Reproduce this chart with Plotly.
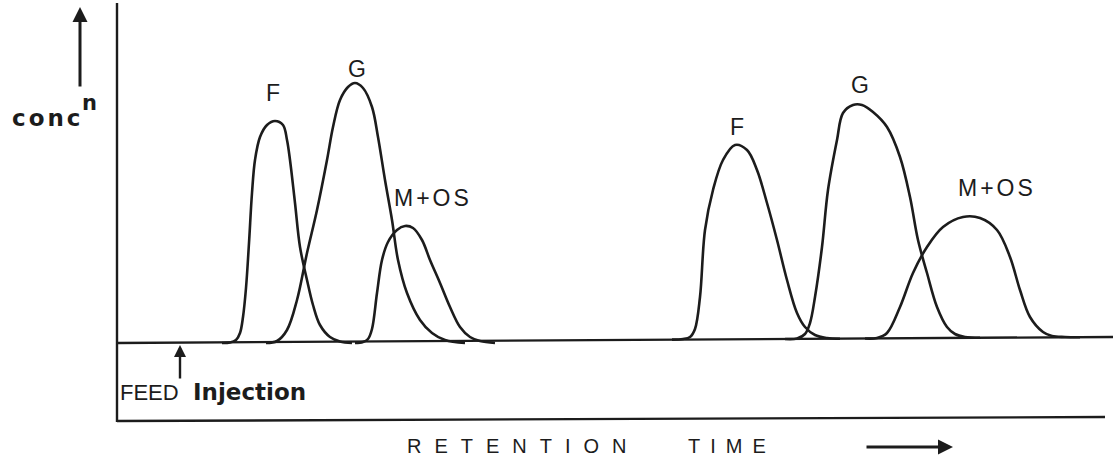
import plotly.graph_objects as go

# Schematic chromatogram: two injections, three components each
# x = retention time (arbitrary units), y = concentration (arbitrary units)
f1_t = [222, 230, 236, 240, 243, 246, 249, 252, 255, 260, 267, 275, 283, 287, 290, 295, 300, 307, 313, 320, 330, 340, 352]
f1_c = [0, 0.5, 3, 10, 26, 55, 100, 150, 183, 206, 218, 222, 218, 203, 183, 140, 96, 63, 38, 18, 6, 1.5, 0]

g1_t = [266, 277, 287, 297, 307, 317, 327, 333, 340, 348, 355, 363, 372, 378, 385, 392, 398, 407, 420, 432, 445, 465]
g1_c = [0, 2, 13, 43, 90, 133, 183, 216, 243, 256, 260, 255, 236, 206, 163, 123, 83, 50, 23, 10, 3, 0]

m1_t = [355, 363, 368, 372, 377, 382, 388, 397, 405, 413, 422, 430, 440, 450, 460, 470, 480, 495]
m1_c = [0, 1, 4, 14, 50, 83, 101, 113, 117, 115, 103, 83, 60, 36, 16, 6, 2, 0]

f2_t = [672, 683, 690, 695, 700, 705, 713, 723, 735, 747, 757, 767, 777, 787, 797, 805, 815, 827, 840]
f2_c = [3.4, 4, 6, 14, 46, 113, 153, 183, 198, 193, 173, 140, 103, 63, 30, 16, 8, 5, 4.3]

g2_t = [785, 797, 805, 810, 815, 822, 828, 837, 843, 853, 862, 873, 887, 900, 910, 918, 927, 937, 947, 955, 965, 980]
g2_c = [4, 4.5, 9, 20, 46, 96, 153, 203, 230, 238, 238, 231, 216, 186, 146, 103, 70, 36, 16, 9, 6, 5.2]

m2_t = [865, 877, 887, 900, 913, 927, 943, 963, 980, 997, 1010, 1020, 1030, 1043, 1052, 1065, 1080]
m2_c = [4.5, 5, 10, 36, 70, 96, 116, 126, 125, 113, 86, 53, 26, 11, 7, 6, 5.8]

peak_labels = ["F", "G", "M+OS", "F", "G", "M+OS"]
label_t = [273, 357, 433, 737, 860, 997]
label_c = [250, 274, 145, 216, 258, 155]

INK = "#1c1c1c"

fig = go.Figure()
for t, c in [(f1_t, f1_c), (g1_t, g1_c), (m1_t, m1_c), (f2_t, f2_c), (g2_t, g2_c), (m2_t, m2_c)]:
    fig.add_trace(go.Scatter(x=t, y=c, mode="lines",
                             line=dict(color=INK, width=2.6, shape="spline", smoothing=1.0),
                             hoverinfo="skip", showlegend=False))

# frame lines: vertical axis, baseline, lower line
fig.add_shape(type="line", x0=117, x1=117, y0=-79, y1=340, line=dict(color=INK, width=2.4))
fig.add_shape(type="line", x0=117, x1=1113, y0=0, y1=6, line=dict(color=INK, width=2.4))
fig.add_shape(type="line", x0=117, x1=1105, y0=-78, y1=-74, line=dict(color=INK, width=2.4))

for txt, t, c in zip(peak_labels, label_t, label_c):
    fig.add_annotation(x=t, y=c, text=f'<span style="letter-spacing:3px">{txt}</span>' if len(txt) > 1 else txt,
                       showarrow=False, font=dict(family="Liberation Sans, Arial", size=23, color=INK))

# concentration label and arrow
fig.add_annotation(x=10, y=225, xanchor="left", showarrow=False,
                   text='<span style="letter-spacing:3px">conc</span>',
                   font=dict(family="DejaVu Sans", size=23, color=INK, weight="bold"))
fig.add_annotation(x=89, y=240, showarrow=False, text="n",
                   font=dict(family="DejaVu Sans", size=21, color=INK, weight="bold"))
fig.add_annotation(x=80, y=336, ax=80, ay=255, axref="x", ayref="y", xref="x", yref="y",
                   text="", showarrow=True, arrowhead=2, arrowsize=1.0, arrowwidth=3, arrowcolor=INK)

# feed injection
fig.add_annotation(x=180, y=-2, ax=180, ay=-37, axref="x", ayref="y",
                   text="", showarrow=True, arrowhead=2, arrowsize=1.0, arrowwidth=2.4, arrowcolor=INK)
fig.add_annotation(x=118, y=-49, xanchor="left", showarrow=False, text="FEED",
                   font=dict(family="Liberation Sans Narrow, Liberation Sans", size=22, color=INK))
fig.add_annotation(x=191, y=-49, xanchor="left", showarrow=False, text="Injection",
                   font=dict(family="DejaVu Sans", size=23, color=INK, weight="bold"))

# retention time label and arrow
fig.add_annotation(x=405, y=-103, xanchor="left", showarrow=False,
                   text='<span style="letter-spacing:13px">RETENTION</span>',
                   font=dict(family="Liberation Sans, Arial", size=20, color=INK))
fig.add_annotation(x=686, y=-103, xanchor="left", showarrow=False,
                   text='<span style="letter-spacing:10px">TIME</span>',
                   font=dict(family="Liberation Sans, Arial", size=20, color=INK))
fig.add_annotation(x=953, y=-104, ax=865, ay=-104, axref="x", ayref="y",
                   text="", showarrow=True, arrowhead=2, arrowsize=1.0, arrowwidth=3, arrowcolor=INK)

fig.update_layout(width=1113, height=462, margin=dict(l=0, r=0, t=0, b=0),
                  paper_bgcolor="white", plot_bgcolor="white", showlegend=False)
fig.update_xaxes(range=[0, 1113], visible=False, fixedrange=True)
fig.update_yaxes(range=[-119, 343], visible=False, fixedrange=True)

fig.write_html("out.html", config={"displayModeBar": False},
               post_script="document.body.style.margin='0';")
